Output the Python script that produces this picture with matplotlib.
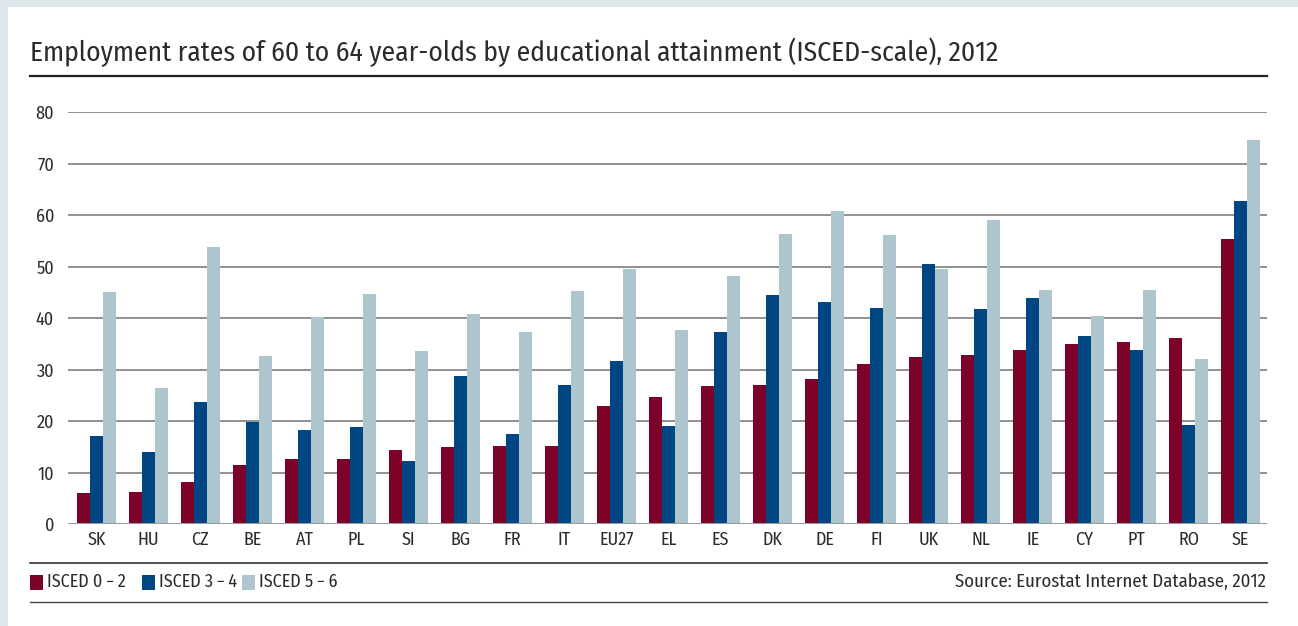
import matplotlib
matplotlib.use("Agg")
import matplotlib.pyplot as plt
from matplotlib.patches import Rectangle
from matplotlib.lines import Line2D
import numpy as np

plt.rcParams['font.family'] = ['Fira Sans Condensed', 'DejaVu Sans']

categories = ["SK", "HU", "CZ", "BE", "AT", "PL", "SI", "BG", "FR", "IT", "EU27", "EL",
              "ES", "DK", "DE", "FI", "UK", "NL", "IE", "CY", "PT", "RO", "SE"]
isced_0_2 = [6.1, 6.3, 8.2, 11.5, 12.7, 12.7, 14.4, 15.0, 15.2, 15.2, 23.0, 24.7,
             26.7, 27.0, 28.2, 31.1, 32.5, 32.9, 33.7, 35.0, 35.4, 36.2, 55.4]
isced_3_4 = [17.0, 14.0, 23.7, 19.9, 18.3, 18.9, 12.3, 28.8, 17.5, 26.9, 31.7, 19.1,
             37.3, 44.5, 43.2, 42.0, 50.5, 41.8, 43.9, 36.6, 33.8, 19.3, 62.8]
isced_5_6 = [45.1, 26.5, 53.8, 32.7, 40.1, 44.7, 33.5, 40.8, 37.3, 45.3, 49.6, 37.7,
             48.2, 56.4, 60.8, 56.2, 49.6, 59.1, 45.5, 40.3, 45.5, 32.1, 74.6]
series_labels = ["ISCED 0\u2009\u2212\u20092", "ISCED 3\u2009\u2212\u20094", "ISCED 5\u2009\u2212\u20096"]
yticks = [0, 10, 20, 30, 40, 50, 60, 70, 80]
title = "Employment rates of 60 to 64 year-olds by educational attainment (ISCED-scale), 2012"
source = "Source: Eurostat Internet Database, 2012"

colors = ["#7d0228", "#004682", "#adc5cc"]
text_color = "#2b2b2b"

W, H = 1298, 626
fig = plt.figure(figsize=(W / 100, H / 100), dpi=100, facecolor="white")

def fx(px):
    return px / W

def fy(py):
    return 1 - py / H

# frame background
fig.patches.append(Rectangle((0, fy(7)), 1, 7 / H, transform=fig.transFigure,
                             facecolor="#dce6eb", edgecolor="none", zorder=0))
fig.patches.append(Rectangle((0, 0), 8 / W, 1, transform=fig.transFigure,
                             facecolor="#dce6eb", edgecolor="none", zorder=0))

ax_left, ax_right = 68, 1266.7
ax_top, ax_bot = 112, 524
ax = fig.add_axes([fx(ax_left), fy(ax_bot), (ax_right - ax_left) / W, (ax_bot - ax_top) / H])
ax.set_facecolor("none")

x = np.arange(len(categories))
w = 0.25
for i, (vals, c, lab) in enumerate(zip([isced_0_2, isced_3_4, isced_5_6], colors, series_labels)):
    ax.bar(x + (i - 1) * w, vals, width=w, color=c, label=lab, zorder=3, linewidth=0)

ax.set_ylim(0, 80)
ax.set_xlim(-0.545, len(categories) - 0.5)
ax.set_yticks(yticks)
ax.set_yticklabels([str(t) for t in yticks])
ax.set_xticks(x)
ax.set_xticklabels(categories)
ax.tick_params(axis="both", length=0, labelsize=13, colors=text_color)
ax.tick_params(axis="y", pad=10)
ax.tick_params(axis="x", pad=5)
for s in ax.spines.values():
    s.set_visible(False)
ax.yaxis.grid(True, color="#888888", linewidth=1.3, zorder=1)
ax.set_axisbelow(True)
ax.axhline(0, color="#9a9a9a", linewidth=2.2, zorder=4)

# title
fig.text(fx(30), fy(52), title, fontsize=19.8, color=text_color, ha="left", va="center")
fig.add_artist(Line2D([fx(30), fx(1266.7)], [fy(76), fy(76)], transform=fig.transFigure,
                      color="#222222", linewidth=1.6))

# legend area lines
fig.add_artist(Line2D([fx(30), fx(1266.7)], [fy(563), fy(563)], transform=fig.transFigure,
                      color="#333333", linewidth=1.2))
fig.add_artist(Line2D([fx(30), fx(1266.7)], [fy(602), fy(602)], transform=fig.transFigure,
                      color="#444444", linewidth=1.0))

leg_x = [30, 142, 242]
for lx, c, lab in zip(leg_x, colors, series_labels):
    fig.patches.append(Rectangle((fx(lx), fy(590)), 12.5 / W, 15 / H, transform=fig.transFigure,
                                 facecolor=c, edgecolor="none"))
    fig.text(fx(lx + 17), fy(582), lab, fontsize=13, color=text_color, ha="left", va="center")

fig.text(fx(1266), fy(582), source, fontsize=13.5, color=text_color, ha="right", va="center")

fig.savefig("out.png", dpi=100, facecolor="white")
